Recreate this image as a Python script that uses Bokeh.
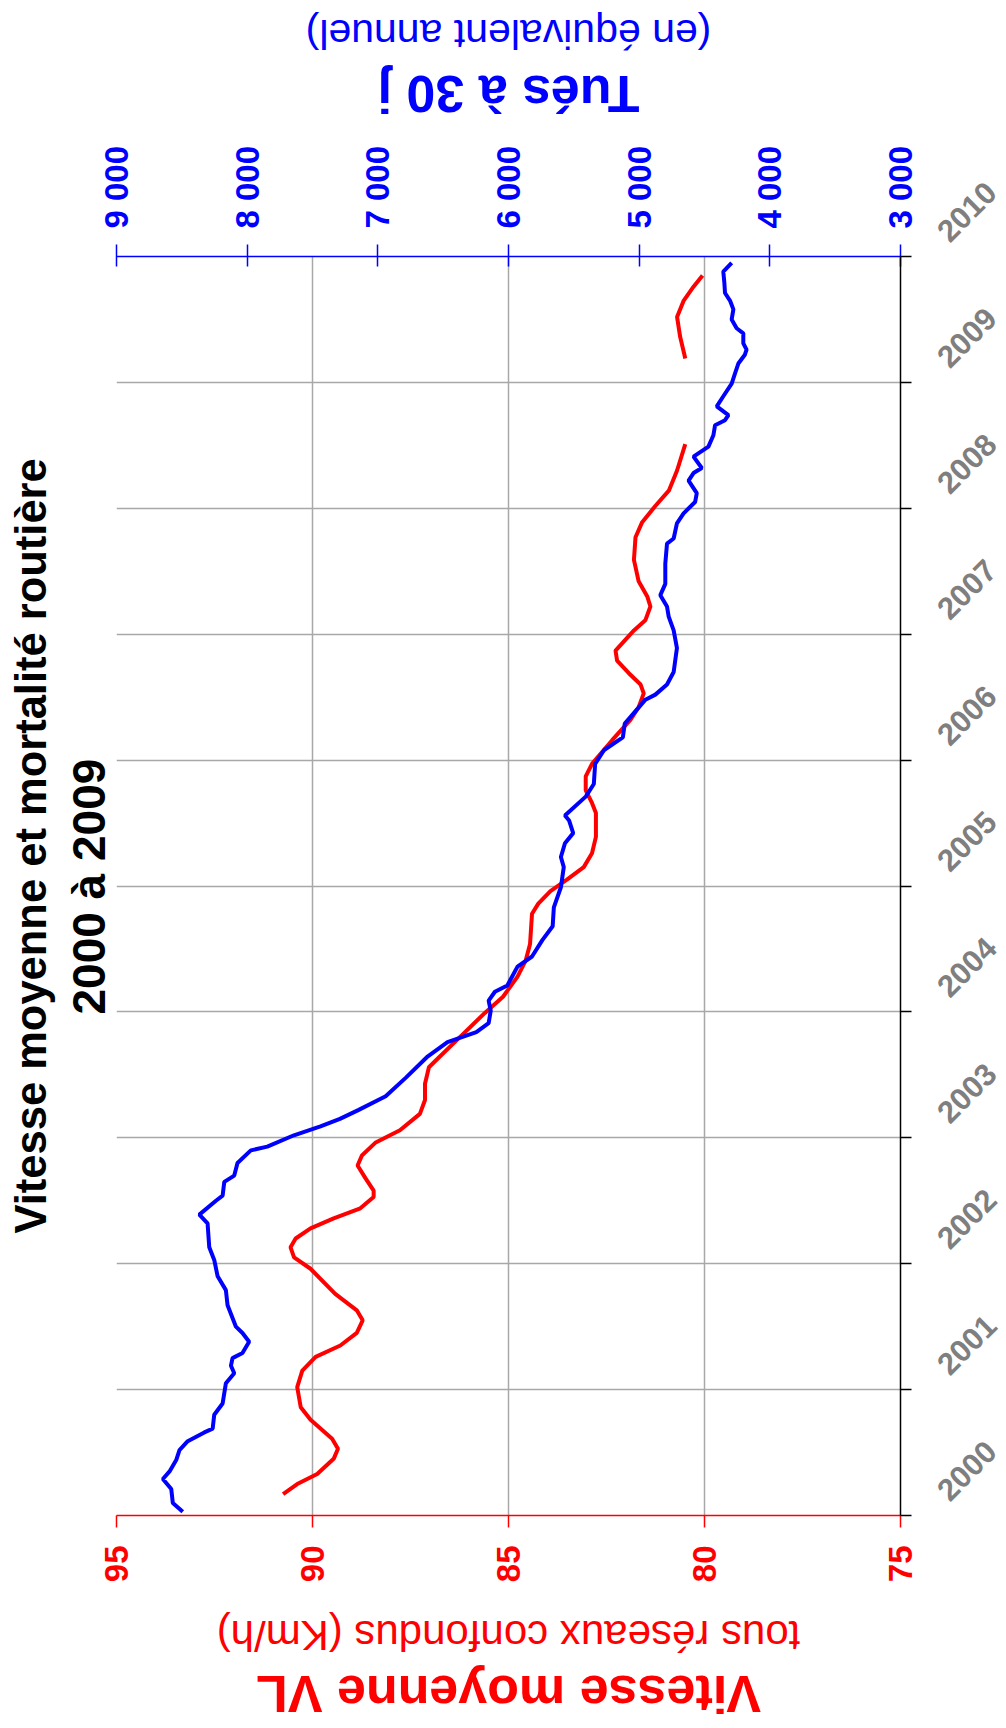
import math
from bokeh.plotting import figure
from bokeh.models import Range1d, LinearAxis, FixedTicker, Title, ColumnDataSource
from bokeh.layouts import column, row
from bokeh.core.properties import value
from bokeh.embed import file_html
from bokeh.resources import INLINE

NaN = float("nan")

# ---- data ----
speed_ticks = [95, 90, 85, 80, 75]
death_ticks = [9000, 8000, 7000, 6000, 5000, 4000, 3000]
death_tick_labels = ["9 000", "8 000", "7 000", "6 000", "5 000", "4 000", "3 000"]
years = [2000, 2001, 2002, 2003, 2004, 2005, 2006, 2007, 2008, 2009, 2010]
year_labels = [str(y) for y in years]

speed_t = [2000.17, 2000.25, 2000.33, 2000.45, 2000.53, 2000.61, 2000.76, 2000.86, 2001.02, 2001.15,
           2001.26, 2001.35, 2001.45, 2001.55, 2001.63, 2001.76, 2001.96, 2002.05, 2002.13, 2002.20,
           2002.28, 2002.36, 2002.44, 2002.53, 2002.58, 2002.68, 2002.78, 2002.86, 2002.96, 2003.06,
           2003.19, 2003.30, 2003.43, 2003.56, 2003.64, 2003.80, 2003.99, 2004.12, 2004.28, 2004.41,
           2004.54, 2004.78, 2004.86, 2004.96, 2005.05, 2005.15, 2005.26, 2005.39, 2005.58, 2005.66,
           2005.76, 2005.87, 2005.97, 2006.16, 2006.32, 2006.42, 2006.53, 2006.60, 2006.69, 2006.79,
           2006.87, 2007.03, 2007.11, 2007.22, 2007.30, 2007.42, 2007.59, 2007.77, 2007.89, 2008.02,
           2008.14, 2008.30, 2008.51, NaN, 2009.19, 2009.36, 2009.52, 2009.65, 2009.76, 2009.85]
speed_kmh = [90.75, 90.39, 89.88, 89.46, 89.35, 89.50, 90.05, 90.30, 90.39, 90.26,
             89.92, 89.29, 88.87, 88.72, 88.87, 89.42, 90.05, 90.47, 90.56, 90.43,
             90.05, 89.46, 88.78, 88.44, 88.44, 88.65, 88.85, 88.74, 88.40, 87.77,
             87.26, 87.13, 87.13, 87.03, 86.77, 86.24, 85.61, 85.14, 84.77, 84.56,
             84.45, 84.40, 84.24, 83.93, 83.51, 83.08, 82.87, 82.77, 82.77, 82.87,
             83.03, 83.03, 82.87, 82.35, 81.89, 81.68, 81.55, 81.63, 81.93, 82.23,
             82.27, 81.80, 81.51, 81.38, 81.46, 81.68, 81.80, 81.76, 81.59, 81.25,
             80.91, 80.70, 80.49, NaN, 80.49, 80.62, 80.70, 80.53, 80.28, 80.05]

deaths_t = [2000.03, 2000.10, 2000.21, 2000.29, 2000.35, 2000.44, 2000.52, 2000.59, 2000.66, 2000.69,
            2000.80, 2000.89, 2001.05, 2001.13, 2001.19, 2001.25, 2001.29, 2001.38, 2001.45, 2001.50,
            2001.67, 2001.79, 2001.90, 2002.03, 2002.13, 2002.32, 2002.39, 2002.50, 2002.54, 2002.65,
            2002.70, 2002.80, 2002.90, 2002.93, 2003.02, 2003.09, 2003.15, 2003.22, 2003.33, 2003.48,
            2003.64, 2003.76, 2003.84, 2003.91, 2004.01, 2004.09, 2004.16, 2004.21, 2004.36, 2004.44,
            2004.57, 2004.68, 2004.83, 2004.99, 2005.15, 2005.23, 2005.34, 2005.42, 2005.52, 2005.56,
            2005.71, 2005.81, 2005.97, 2006.08, 2006.18, 2006.29, 2006.48, 2006.52, 2006.60, 2006.70,
            2006.89, 2007.03, 2007.14, 2007.22, 2007.31, 2007.40, 2007.56, 2007.72, 2007.76, 2007.88,
            2007.96, 2008.05, 2008.12, 2008.22, 2008.28, 2008.32, 2008.41, 2008.49, 2008.58, 2008.66,
            2008.70, 2008.74, 2008.81, 2008.89, 2008.99, 2009.07, 2009.15, 2009.22, 2009.26, 2009.31,
            2009.39, 2009.43, 2009.50, 2009.58, 2009.65, 2009.71, 2009.79, 2009.88, 2009.95]
deaths = [8493, 8569, 8581, 8645, 8594, 8543, 8518, 8455, 8328, 8264,
          8252, 8188, 8163, 8099, 8124, 8112, 8036, 7985, 8036, 8086,
          8150, 8163, 8226, 8252, 8290, 8303, 8366, 8239, 8188, 8175,
          8099, 8074, 7972, 7846, 7642, 7439, 7290, 7150, 6940, 6783,
          6625, 6467, 6246, 6152, 6136, 6152, 6104, 6009, 5931, 5820,
          5741, 5662, 5653, 5599, 5577, 5599, 5568, 5505, 5536, 5568,
          5409, 5347, 5337, 5268, 5125, 5110, 4952, 4876, 4787, 4736,
          4711, 4736, 4774, 4787, 4838, 4800, 4800, 4787, 4736, 4711,
          4660, 4572, 4559, 4622, 4584, 4521, 4584, 4470, 4432, 4419,
          4343, 4317, 4406, 4356, 4292, 4267, 4241, 4191, 4178, 4203,
          4203, 4254, 4292, 4279, 4305, 4343, 4348, 4356, 4292]

title_line1 = "Vitesse moyenne et mortalité routière"
title_line2 = "2000 à 2009"
top_label = "Tués à 30 j"
top_sub = "(en équivalent annuel)"
bottom_label = "Vitesse moyenne VL"
bottom_sub = "tous réseaux confondus (Km/h)"

RED = "#ff0000"
BLUE = "#0000ff"
GRAY = "#7f7f7f"
FONT = "Liberation Sans"

W, H = 1006, 1728
MW = 918                                        # width of the chart column
TOP_H, MAIN_H, BOT_H = 136, 1454, 138           # three stacked figures, 1728 in all
FL, FR = 112, 900                               # frame left / right
FRAME_TOP, FRAME_BOT = 256, 1515                # frame top / bottom on the page
FT, FB = FRAME_TOP - TOP_H, FRAME_BOT - TOP_H   # ... inside the main figure
XMID = (speed_ticks[0] + speed_ticks[-1]) / 2

p = figure(width=MW, height=MAIN_H, x_range=Range1d(speed_ticks[0], speed_ticks[-1]),
           y_range=Range1d(years[0], years[-1]), output_backend="svg", toolbar_location=None,
           y_axis_location="right",
           min_border_left=FL, min_border_right=MW - FR, min_border_top=FT, min_border_bottom=MAIN_H - FB)
p.outline_line_color = None

# grids
p.xgrid.ticker = FixedTicker(ticks=speed_ticks)
p.ygrid.ticker = FixedTicker(ticks=years)
for g in (p.xgrid, p.ygrid):
    g.grid_line_color = "#a8a8a8"
    g.grid_line_width = 1.5

def style_axis(ax, color, tin, tout, standoff, size="33px"):
    ax.axis_line_color = color
    ax.axis_line_width = 1.5
    ax.major_tick_line_color = color
    ax.major_tick_line_width = 1.5
    ax.major_tick_in = tin
    ax.major_tick_out = tout
    ax.minor_tick_line_color = None
    ax.minor_tick_in = 0
    ax.minor_tick_out = 0
    ax.major_label_standoff = standoff
    ax.major_label_text_color = color
    ax.major_label_text_font = FONT
    ax.major_label_text_font_style = "bold"
    ax.major_label_text_font_size = size

# bottom axis (speed)
bx = p.xaxis[0]
bx.ticker = FixedTicker(ticks=speed_ticks)
style_axis(bx, RED, 0, 12, 18)
bx.major_label_orientation = math.pi / 2

# top axis (deaths)
p.extra_x_ranges = {"deaths": Range1d(death_ticks[0], death_ticks[-1])}
tx = LinearAxis(x_range_name="deaths", ticker=FixedTicker(ticks=death_ticks),
                major_label_overrides=dict(zip(death_ticks, death_tick_labels)))
style_axis(tx, BLUE, 10, 12, 16)
tx.major_label_orientation = "vertical"
p.add_layout(tx, "above")

# right axis (years): line and ticks; the year labels are drawn in the strip on the right
ry = p.yaxis[0]
ry.ticker = FixedTicker(ticks=years)
style_axis(ry, "black", 0, 11, 0, size="0px")
ry.major_label_text_color = None

# title (left, reading upward)
p.add_layout(Title(text=title_line2, align="left", offset=501, text_font=FONT, text_font_style="bold",
                   text_font_size="46px", text_color="black", standoff=4), "left")
p.add_layout(Title(text=title_line1, align="left", offset=282, text_font=FONT, text_font_style="bold",
                   text_font_size="43.5px", text_color="black", standoff=8), "left")

# series
p.line(speed_kmh, speed_t, line_color=RED, line_width=4)
p.line(deaths, deaths_t, line_color=BLUE, line_width=4, x_range_name="deaths")

# strips above and below the chart for the upside-down axis titles
def strip(height, texts):
    s = figure(width=MW, height=height, x_range=p.x_range, y_range=Range1d(height, 0),
               output_backend="svg", toolbar_location=None,
               x_axis_location=None, y_axis_location=None,
               min_border_left=FL, min_border_right=MW - FR, min_border_top=0, min_border_bottom=0)
    s.outline_line_color = None
    s.xgrid.visible = False
    s.ygrid.visible = False
    for text, y, color, size, bold in texts:
        s.text(x=[XMID], y=[y], text=[text], angle=math.pi, text_align="center",
               text_baseline="middle", text_color=color, text_font=value(FONT),
               text_font_style="bold" if bold else "normal", text_font_size=size)
    return s

top = strip(TOP_H, [(top_sub, 33.5, BLUE, "41px", False),
                    (top_label, 93.5, BLUE, "52px", True)])
bottom = strip(BOT_H, [(bottom_sub, 1634.6 - (TOP_H + MAIN_H), RED, "42px", False),
                       (bottom_label, 1693.5 - (TOP_H + MAIN_H), RED, "52px", True)])

# strip on the right with the year labels, on the same vertical scale as the chart
ppy = (FRAME_BOT - FRAME_TOP) / (years[-1] - years[0])
ys = figure(width=W - MW, height=H, x_range=Range1d(MW, W),
            y_range=Range1d(years[0] - (H - FRAME_BOT) / ppy, years[-1] + FRAME_TOP / ppy),
            output_backend="svg", toolbar_location=None,
            x_axis_location=None, y_axis_location=None,
            min_border_left=0, min_border_right=0, min_border_top=0, min_border_bottom=0)
ys.outline_line_color = None
ys.xgrid.visible = False
ys.ygrid.visible = False
src = ColumnDataSource(dict(x=[FR] * len(years), y=years, text=year_labels))
ys.text(x="x", y="y", text="text", source=src, x_offset=66, y_offset=-45,
        angle=math.pi / 4, text_align="center", text_baseline="middle",
        text_color=GRAY, text_font=value(FONT), text_font_style="bold", text_font_size="31px")

layout = row(column(top, p, bottom, spacing=0), ys, spacing=0)
open("out.html", "w").write(file_html(layout, INLINE))
